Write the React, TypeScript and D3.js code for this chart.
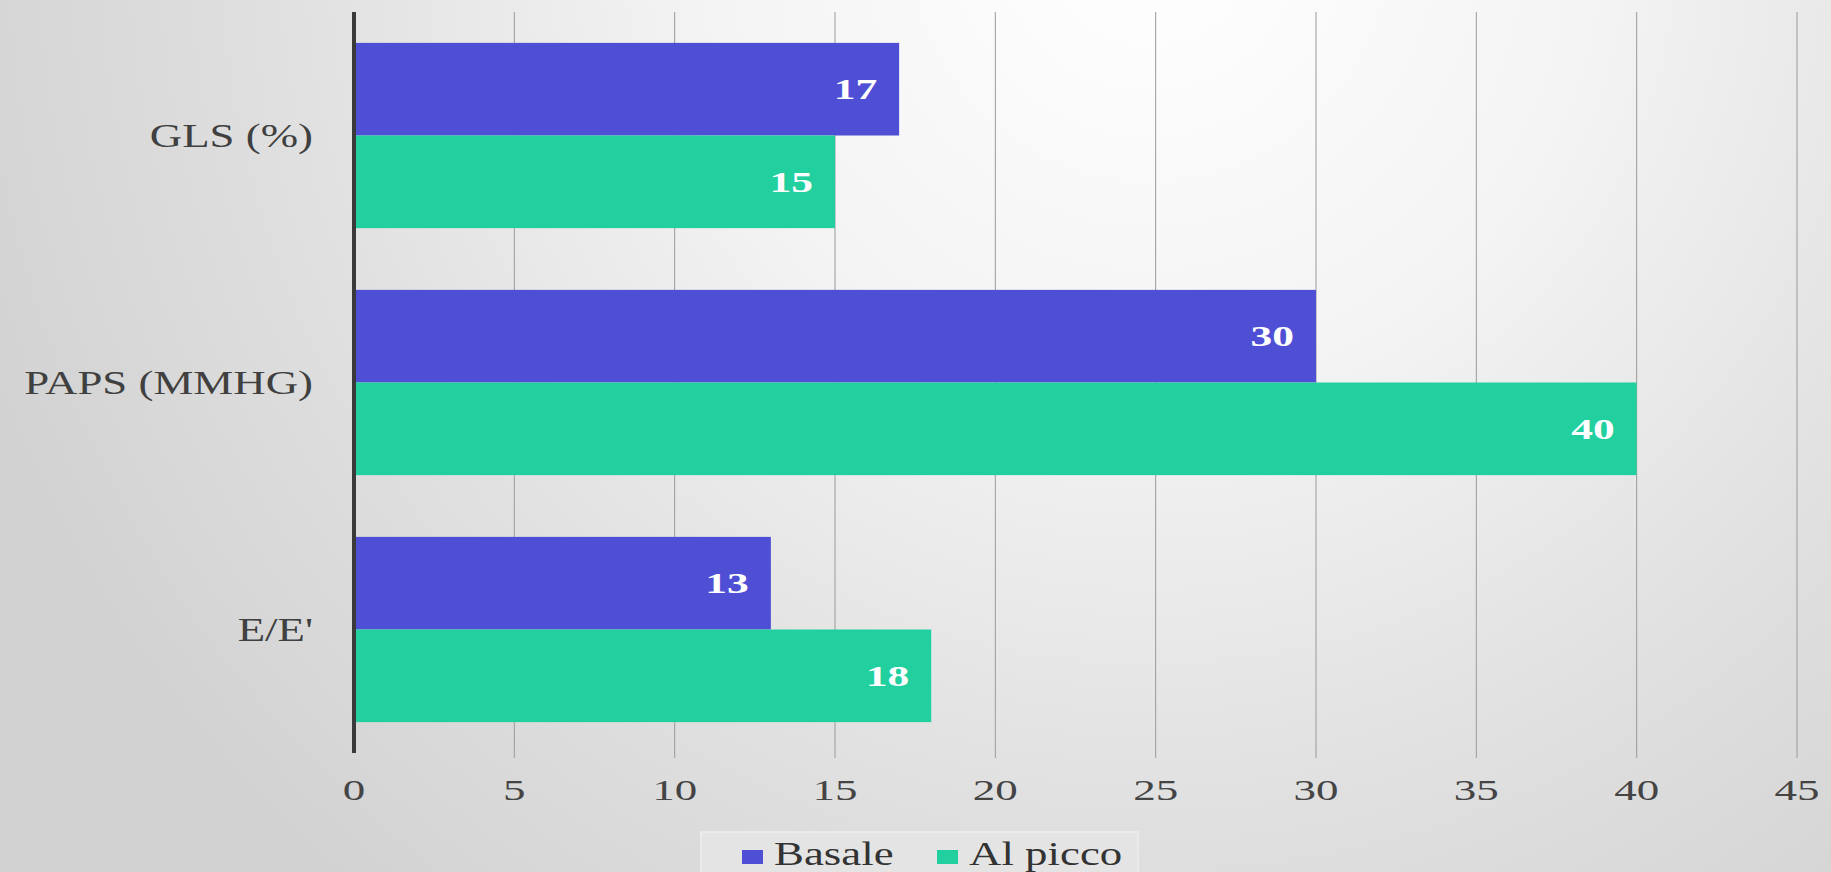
import React from "react";
import * as d3 from "d3";

const categories = ["GLS (%)", "PAPS (MMHG)", "E/E'"];
const seriesNames = ["Basale", "Al picco"];
const basale = [17, 30, 13];
const alPicco = [15, 40, 18];
const xTicks = [0, 5, 10, 15, 20, 25, 30, 35, 40, 45];
const colors = ["#4f4fd6", "#22cf9f"];

const W = 1831;
const H = 872;
const FONT = "'Liberation Serif', 'Times New Roman', serif";

export default function App() {
  const x = d3.scaleLinear().domain([0, 45]).range([354, 1797]);
  const y = d3
    .scaleBand<string>()
    .domain(categories)
    .range([12, 753])
    .paddingInner(0.25)
    .paddingOuter(0.125);
  const y2 = d3
    .scaleBand<string>()
    .domain(seriesNames)
    .range([0, y.bandwidth()]);
  const series = [basale, alPicco];

  return (
    <svg
      width={W}
      height={H}
      style={{ position: "absolute", left: 0, top: 0, display: "block" }}
    >
      <defs>
        <radialGradient id="bg" gradientUnits="userSpaceOnUse" cx={1150} cy={-60} r={1250}>
          <stop offset="0" stopColor="#ffffff" />
          <stop offset="0.35" stopColor="#f4f4f4" />
          <stop offset="0.7" stopColor="#e0e0e0" />
          <stop offset="1" stopColor="#d2d2d2" />
        </radialGradient>
      </defs>
      <rect x={0} y={0} width={W} height={H} fill="url(#bg)" />

      {xTicks.map((t) =>
        t === 0 ? null : (
          <line
            key={"g" + t}
            x1={x(t)}
            x2={x(t)}
            y1={12}
            y2={758}
            stroke="#9a9a9a"
            strokeWidth={1}
          />
        )
      )}

      {categories.map((c, i) =>
        series.map((s, j) => {
          const y0 = (y(c) as number) + (y2(seriesNames[j]) as number);
          const bw = y2.bandwidth();
          return (
            <g key={c + j}>
              <rect
                x={x(0)}
                y={y0}
                width={x(s[i]) - x(0)}
                height={bw}
                fill={colors[j]}
              />
              <text
                transform={`translate(${x(s[i]) - 22},${y0 + bw / 2 + 10}) scale(1.45,1)`}
                textAnchor="end"
                fill="#ffffff"
                fontFamily={FONT}
                fontWeight="bold"
                fontSize={30}
              >
                {s[i]}
              </text>
            </g>
          );
        })
      )}

      <line x1={x(0)} x2={x(0)} y1={12} y2={753} stroke="#3a3a3a" strokeWidth={4} />

      {xTicks.map((t) => (
        <text
          key={"t" + t}
          transform={`translate(${x(t)},${800}) scale(1.5,1)`}
          textAnchor="middle"
          fill="#444"
          fontFamily={FONT}
          fontSize={30}
        >
          {t}
        </text>
      ))}

      {categories.map((c) => (
        <text
          key={"c" + c}
          transform={`translate(313,${(y(c) as number) + y.bandwidth() / 2 + 11.5}) scale(1.32,1)`}
          textAnchor="end"
          fill="#404040"
          fontFamily={FONT}
          fontSize={34}
        >
          {c}
        </text>
      ))}

      <g>
        <rect x={701} y={832} width={437} height={50} fill="#e4e4e4" stroke="#eeeeee" strokeWidth={1.5} />
        <rect x={742} y={850} width={21} height={14} fill={colors[0]} />
        <text
          transform={`translate(774,865) scale(1.32,1)`}
          fill="#333"
          fontFamily={FONT}
          fontSize={34}
        >
          {seriesNames[0]}
        </text>
        <rect x={937} y={850} width={21} height={14} fill={colors[1]} />
        <text
          transform={`translate(969,865) scale(1.32,1)`}
          fill="#333"
          fontFamily={FONT}
          fontSize={34}
        >
          {seriesNames[1]}
        </text>
      </g>
    </svg>
  );
}
